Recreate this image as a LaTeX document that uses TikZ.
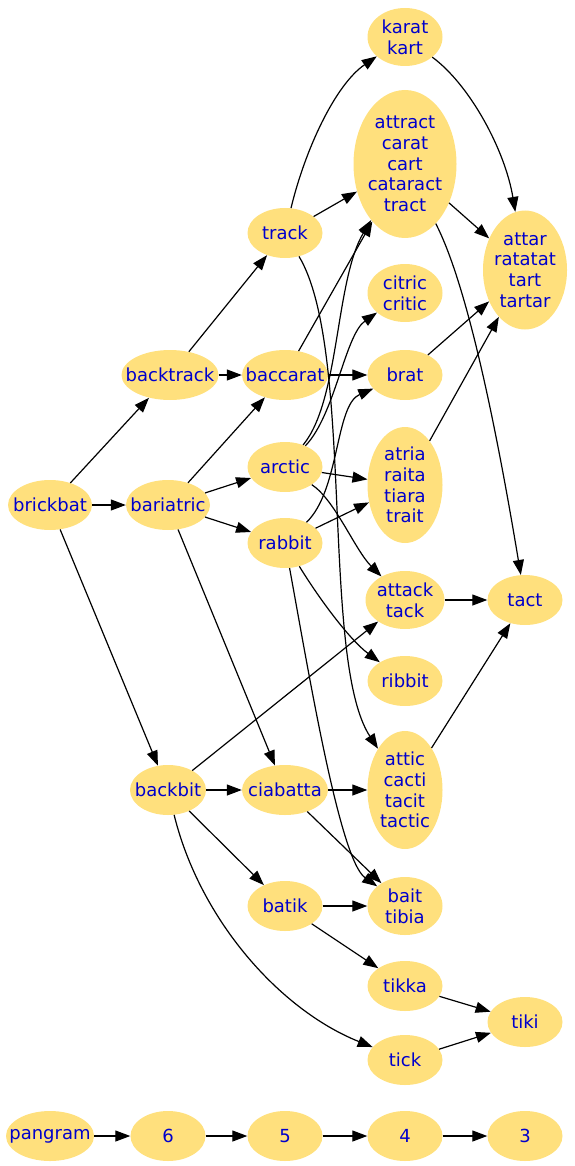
\documentclass[tikz,border=0pt]{standalone}
\usepackage{fontspec}
\setmainfont{DejaVu Sans}
\usetikzlibrary{shapes.geometric,arrows.meta}
\definecolor{nodefill}{HTML}{FFE07D}
\definecolor{nodetext}{HTML}{0000CC}
\begin{document}
\begin{tikzpicture}[x=1pt,y=-1pt,
  wn/.style={ellipse, fill=nodefill, text=nodetext, inner sep=-10pt,
    minimum width=75pt, minimum height=50pt, align=center,
    font=\fontsize{18}{20.7}\selectfont},
  ed/.style={-{Triangle[length=15pt,width=11pt]}, line width=1.2pt, black}]
\useasboundingbox (0,0) rectangle (574,1166);
% column 1
\node[wn, minimum width=84pt] (brickbat) at (50,505) {brickbat};
\node[wn, minimum width=88pt] (pangram) at (50,1136) {pangram};
% column 2
\node[wn, minimum width=96pt] (backtrack) at (170,375) {backtrack};
\node[wn, minimum width=84pt] (bariatric) at (168,505) {bariatric};
\node[wn, minimum width=76pt] (backbit) at (168,790) {backbit};
\node[wn] (n6) at (168,1136) {6};
% column 3
\node[wn] (track) at (285,233) {track};
\node[wn, minimum width=86pt] (baccarat) at (285,375) {baccarat};
\node[wn] (arctic) at (285,467) {arctic};
\node[wn] (rabbit) at (285,543) {rabbit};
\node[wn, minimum width=86pt] (ciabatta) at (285,790) {ciabatta};
\node[wn] (batik) at (285,906) {batik};
\node[wn] (n5) at (285,1136) {5};
% column 4
\node[wn, minimum height=58pt] (karat) at (405,37) {karat\\kart};
\node[wn, minimum width=103pt, minimum height=148pt] (attract) at (405,164) {attract\\carat\\cart\\cataract\\tract};
\node[wn, minimum height=58pt] (citric) at (405,293) {citric\\critic};
\node[wn] (brat) at (405,375) {brat};
\node[wn, minimum height=116pt] (atria) at (405,485) {atria\\raita\\tiara\\trait};
\node[wn, minimum width=79pt, minimum height=58pt] (attack) at (405,600) {attack\\tack};
\node[wn] (ribbit) at (405,681) {ribbit};
\node[wn, minimum height=118pt] (attic) at (405,790) {attic\\cacti\\tacit\\tactic};
\node[wn, minimum height=58pt] (bait) at (405,906) {bait\\tibia};
\node[wn] (tikka) at (405,986) {tikka};
\node[wn] (tick) at (405,1060) {tick};
\node[wn] (n4) at (405,1136) {4};
% column 5
\node[wn, minimum width=84pt, minimum height=119pt] (attar) at (525,270) {attar\\ratatat\\tart\\tartar};
\node[wn] (tact) at (525,600) {tact};
\node[wn] (tiki) at (525,1022) {tiki};
\node[wn] (n3) at (525,1136) {3};
% edges
\draw[ed] (brickbat) -- (backtrack);
\draw[ed] (brickbat) -- (bariatric);
\draw[ed] (brickbat) -- (backbit);
\draw[ed] (backtrack) -- (track);
\draw[ed] (backtrack) -- (baccarat);
\draw[ed] (bariatric) -- (baccarat);
\draw[ed] (bariatric) -- (arctic);
\draw[ed] (bariatric) -- (rabbit);
\draw[ed] (bariatric) -- (ciabatta);
\draw[ed] (backbit) -- (attack);
\draw[ed] (backbit) -- (ciabatta);
\draw[ed] (backbit) -- (batik);
\draw[ed] (backbit) .. controls (200,920) and (280,1010) .. (tick);
\draw[ed] (track) .. controls (305,150) and (335,85) .. (karat);
\draw[ed] (track) -- (attract);
\draw[ed] (track) .. controls (355,350) and (320,660) .. (attic);
\draw[ed] (baccarat) -- (attract);
\draw[ed] (baccarat) -- (brat);
\draw[ed] (arctic) .. controls (340,400) and (335,280) .. (attract);
\draw[ed] (arctic) .. controls (335,415) and (345,335) .. (citric);
\draw[ed] (arctic) -- (atria);
\draw[ed] (arctic) .. controls (335,500) and (355,550) .. (attack);
\draw[ed] (rabbit) .. controls (340,490) and (335,405) .. (brat);
\draw[ed] (rabbit) -- (atria);
\draw[ed] (rabbit) .. controls (320,600) and (350,640) .. (ribbit);
\draw[ed] (rabbit) .. controls (310,680) and (340,860) .. (bait);
\draw[ed] (ciabatta) -- (attic);
\draw[ed] (ciabatta) -- (bait);
\draw[ed] (batik) -- (bait);
\draw[ed] (batik) -- (tikka);
\draw[ed] (tikka) -- (tiki);
\draw[ed] (tick) -- (tiki);
\draw[ed] (karat) .. controls (470,85) and (505,150) .. (attar);
\draw[ed] (attract) -- (attar);
\draw[ed] (attract) .. controls (470,290) and (500,450) .. (tact);
\draw[ed] (brat) -- (attar);
\draw[ed] (atria) -- (attar);
\draw[ed] (attack) -- (tact);
\draw[ed] (attic) -- (tact);
\draw[ed] (pangram) -- (n6);
\draw[ed] (n6) -- (n5);
\draw[ed] (n5) -- (n4);
\draw[ed] (n4) -- (n3);
\end{tikzpicture}
\end{document}
